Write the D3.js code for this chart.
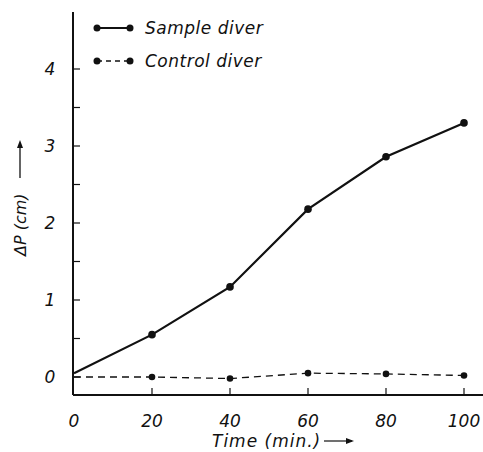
<!DOCTYPE html>
<html><head><meta charset="utf-8">
<script src="https://cdn.jsdelivr.net/npm/d3@7"></script>
<style>body{margin:0;background:#fff}svg{display:block}text{font-family:"DejaVu Sans",sans-serif;font-style:italic;fill:#111}</style>
</head><body><svg id="c" width="483" height="452"></svg>
<script>
const times = [0, 20, 40, 60, 80, 100];
const sampleDiver = [0.05, 0.55, 1.17, 2.18, 2.86, 3.30];
const controlDiver = [0.0, 0.0, -0.02, 0.05, 0.04, 0.02];
const xTicks = [0, 20, 40, 60, 80, 100];
const yMajor = [0, 1, 2, 3, 4];
const yMinor = [0.5, 1.5, 2.5, 3.5];
const seriesNames = ["Sample diver", "Control diver"];

const svg = d3.select("#c");
const x = d3.scaleLinear().domain([0, 100]).range([74, 464]);
const y = d3.scaleLinear().domain([0, 4]).range([377, 69]);
const yBottom = 395, yTop = 12, xAxisX = 73;

svg.append("line").attr("x1", xAxisX).attr("x2", xAxisX).attr("y1", yTop).attr("y2", yBottom)
  .attr("stroke", "#111").attr("stroke-width", 2);
svg.append("line").attr("x1", xAxisX).attr("x2", 483).attr("y1", yBottom).attr("y2", yBottom)
  .attr("stroke", "#111").attr("stroke-width", 2);

svg.selectAll(".ymaj").data(yMajor.concat(yMinor)).enter().append("line")
  .attr("x1", xAxisX).attr("x2", xAxisX + 7).attr("y1", d => y(d)).attr("y2", d => y(d))
  .attr("stroke", "#111").attr("stroke-width", 1.2);
svg.selectAll(".ylab").data(yMajor).enter().append("text")
  .attr("x", 50).attr("y", d => y(d) + 6).attr("text-anchor", "middle")
  .attr("font-size", 17).text(d => d);

svg.selectAll(".xt").data(xTicks.filter(d => d > 0)).enter().append("line")
  .attr("x1", d => x(d)).attr("x2", d => x(d)).attr("y1", yBottom).attr("y2", yBottom - 7)
  .attr("stroke", "#111").attr("stroke-width", 1.2);
svg.selectAll(".xlab").data(xTicks).enter().append("text")
  .attr("x", d => x(d)).attr("y", 427).attr("text-anchor", "middle")
  .attr("font-size", 17).text(d => d);

svg.append("text").attr("x", 212).attr("y", 447).attr("font-size", 17).attr("letter-spacing", 1).text("Time (min.)");
svg.append("line").attr("x1", 324).attr("x2", 352).attr("y1", 441).attr("y2", 441).attr("stroke", "#111").attr("stroke-width", 1.2);
svg.append("path").attr("d", "M354,441 l-8,-3 l0,6 z").attr("fill", "#111");

svg.append("text").attr("transform", "translate(26,256) rotate(-90)").attr("font-size", 16).text("ΔP (cm)");
svg.append("line").attr("x1", 20).attr("x2", 20).attr("y1", 178).attr("y2", 144).attr("stroke", "#111").attr("stroke-width", 1.3);
svg.append("path").attr("d", "M20,140 l-3,8 l6,0 z").attr("fill", "#111");

const data = times.map((t, i) => ({t, s: sampleDiver[i], c: controlDiver[i]}));
const lineS = d3.line().x(d => x(d.t)).y(d => y(d.s));
const lineC = d3.line().x(d => x(d.t)).y(d => y(d.c));
svg.append("path").datum(data).attr("d", lineS).attr("fill", "none").attr("stroke", "#111").attr("stroke-width", 2.2);
svg.append("path").datum(data).attr("d", lineC).attr("fill", "none").attr("stroke", "#111").attr("stroke-width", 1.3).attr("stroke-dasharray", "7,5");
svg.selectAll(".ps").data(data.filter(d => d.t > 0)).enter().append("circle")
  .attr("cx", d => x(d.t)).attr("cy", d => y(d.s)).attr("r", 3.8).attr("fill", "#111");
svg.selectAll(".pc").data(data.filter(d => d.t > 0)).enter().append("circle")
  .attr("cx", d => x(d.t)).attr("cy", d => y(d.c)).attr("r", 3.3).attr("fill", "#111");

const leg = [{name: seriesNames[0], dash: null, w: 2.2, yy: 28}, {name: seriesNames[1], dash: "5,4", w: 1.3, yy: 61}];
leg.forEach(l => {
  svg.append("line").attr("x1", 97).attr("x2", 130).attr("y1", l.yy).attr("y2", l.yy)
    .attr("stroke", "#111").attr("stroke-width", l.w).attr("stroke-dasharray", l.dash);
  svg.append("circle").attr("cx", 97).attr("cy", l.yy).attr("r", 3.5).attr("fill", "#111");
  svg.append("circle").attr("cx", 130).attr("cy", l.yy).attr("r", 3.5).attr("fill", "#111");
  svg.append("text").attr("x", 145).attr("y", l.yy + 6).attr("font-size", 17).attr("letter-spacing", 0.5).text(l.name);
});
</script></body></html>
